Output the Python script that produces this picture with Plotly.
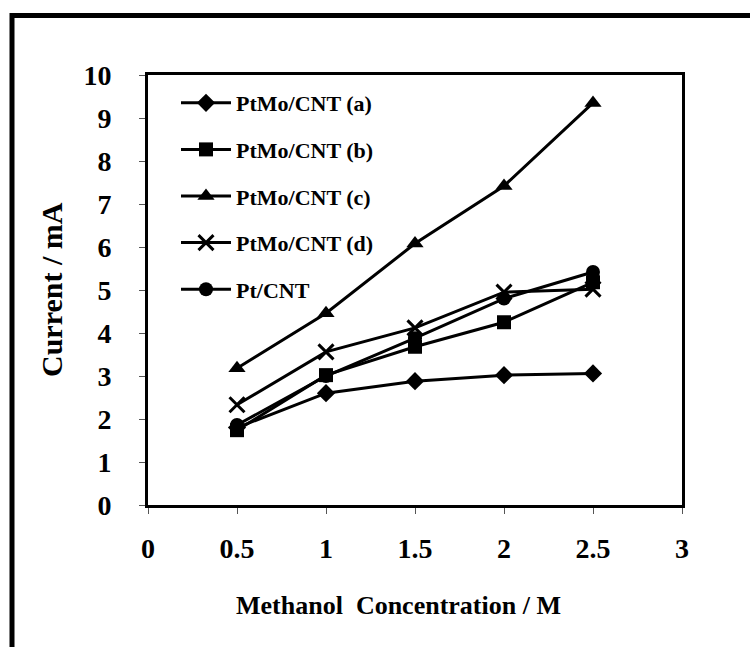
import plotly.graph_objects as go

# Methanol concentration (M)
conc = [0.5, 1.0, 1.5, 2.0, 2.5]

# Oxidation current (mA) for each catalyst
ptmo_a = [1.80, 2.60, 2.88, 3.02, 3.06]
ptmo_b = [1.74, 3.02, 3.68, 4.25, 5.18]
ptmo_c = [3.18, 4.46, 6.08, 7.42, 9.35]
ptmo_d = [2.33, 3.56, 4.12, 4.95, 5.02]
pt_cnt = [1.86, 3.00, 3.88, 4.80, 5.42]

series = [
    ("PtMo/CNT (a)", ptmo_a, "diamond", 14),
    ("PtMo/CNT (b)", ptmo_b, "square", 14),
    ("PtMo/CNT (c)", ptmo_c, "triangle-up", 15),
    ("PtMo/CNT (d)", ptmo_d, "x-thin", 15),
    ("Pt/CNT", pt_cnt, "circle", 14),
]

x_ticks = [0, 0.5, 1, 1.5, 2, 2.5, 3]
x_tick_text = ["0", "0.5", "1", "1.5", "2", "2.5", "3"]

FONT = "Liberation Serif, Times New Roman, serif"
W, H = 750, 647
L, R, T, B = 148, 68, 75, 142

fig = go.Figure()
for i, (name, vals, sym, size) in enumerate(series):
    marker = dict(symbol=sym, size=size, color="black")
    if sym == "x-thin":
        marker["line"] = dict(width=3, color="black")
    fig.add_trace(go.Scatter(
        x=conc, y=vals, name=name, mode="lines+markers",
        line=dict(color="black", width=3),
        marker=marker,
        legendgroup=f"g{i}",
    ))

pw, ph = W - L - R, H - T - B
def px_x(p):
    return (p - L) / pw
def px_y(p):
    return (H - B - p) / ph

# outer frame around the whole figure
fig.add_shape(type="rect", xref="paper", yref="paper",
              x0=px_x(12), x1=px_x(770), y0=px_y(670), y1=px_y(15.5),
              line=dict(color="black", width=5), fillcolor="rgba(0,0,0,0)",
              layer="above")

# axis titles
fig.add_annotation(text="Methanol  Concentration / M", xref="paper", yref="paper",
                   x=px_x(398), y=px_y(605), showarrow=False,
                   xanchor="center", yanchor="middle",
                   font=dict(family=FONT, size=26, color="black", weight="bold"))
fig.add_annotation(text="Current / mA", xref="paper", yref="paper",
                   x=px_x(51), y=px_y(290), showarrow=False, textangle=-90,
                   xanchor="center", yanchor="middle",
                   font=dict(family=FONT, size=30, color="black", weight="bold"))

axis_common = dict(
    showline=True, linecolor="black", linewidth=3, mirror=True,
    ticks="outside", ticklen=6, tickwidth=1, tickcolor="#555",
    showgrid=False, zeroline=False,
    tickfont=dict(family=FONT, size=28, color="black", weight="bold"),
)

fig.update_layout(
    width=W, height=H,
    margin=dict(l=L, r=R, t=T, b=B),
    paper_bgcolor="white", plot_bgcolor="white",
    font=dict(family=FONT, color="black"),
    xaxis=dict(range=[0, 3], tickvals=x_ticks, ticktext=x_tick_text,
               ticklabelstandoff=10, **axis_common),
    yaxis=dict(range=[0, 10], dtick=1, ticklabelstandoff=22, **axis_common),
    legend=dict(x=px_x(176), y=px_y(82), xanchor="left", yanchor="top",
                bgcolor="rgba(0,0,0,0)", borderwidth=0,
                font=dict(family=FONT, size=22, color="black", weight="bold"),
                tracegroupgap=15, itemwidth=50, traceorder="grouped"),
    showlegend=True,
)

fig.write_html("out.html")
